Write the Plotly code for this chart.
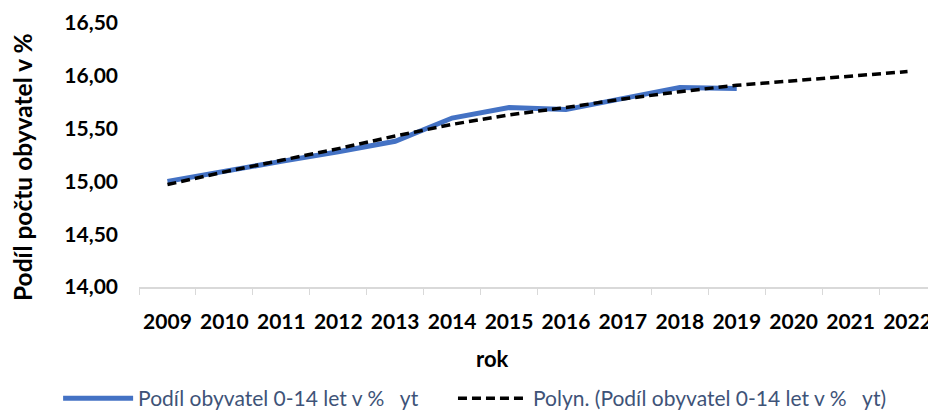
import plotly.graph_objects as go

years = ["2009", "2010", "2011", "2012", "2013", "2014", "2015", "2016",
         "2017", "2018", "2019", "2020", "2021", "2022"]
share_values = [15.00, 15.10, 15.19, 15.28, 15.38, 15.60, 15.70, 15.68,
                15.78, 15.89, 15.88]
trend_values = [14.97, 15.09, 15.20, 15.31, 15.43, 15.54, 15.63, 15.70,
                15.78, 15.85, 15.91, 15.955, 16.00, 16.04]
y_ticks = [14.0, 14.5, 15.0, 15.5, 16.0, 16.5]

series_name = "Podíl obyvatel 0-14 let v %   yt"
trend_name = "Polyn. (Podíl obyvatel 0-14 let v %   yt)"
x_title = "rok"
y_title = "Podíl počtu obyvatel v %"

FONT = "Lato"
LEGEND_FONT = dict(family=FONT, size=21, color="#3E5378")

fig = go.Figure()
fig.add_trace(go.Scatter(
    x=years[:len(share_values)], y=share_values, mode="lines",
    name=series_name, line=dict(color="#4472C4", width=5), legend="legend"))
fig.add_trace(go.Scatter(
    x=years, y=trend_values, mode="lines", name=trend_name,
    line=dict(color="#000000", width=3.5, dash="9px,5px"), legend="legend2"))

# page body adds an 8px offset, so the figure is sized to fill the rest of the window
fig.update_layout(
    width=928, height=406,
    margin=dict(l=131, r=0, t=15, b=127),
    paper_bgcolor="white", plot_bgcolor="white",
    separators=", ",
    font=dict(family=FONT, color="black"),
    showlegend=True,
    legend=dict(orientation="h", xref="container", yref="container",
                x=0.054, xanchor="left", y=0.038, yanchor="middle",
                font=LEGEND_FONT, itemwidth=70),
    legend2=dict(orientation="h", xref="container", yref="container",
                 x=0.4795, xanchor="left", y=0.038, yanchor="middle",
                 font=LEGEND_FONT, itemwidth=70),
    xaxis=dict(type="category", categoryorder="array", categoryarray=years,
               automargin=False, tickangle=0,
               showgrid=False, showline=True, linecolor="#d9d9d9", linewidth=1.5,
               ticks="outside", tickson="boundaries", ticklen=6, tickcolor="#d9d9d9",
               ticklabelstandoff=15,
               tickfont=dict(family=FONT, size=21, color="black", weight="bold"),
               range=[-0.5, 13.5], zeroline=False),
    yaxis=dict(range=[14.0, 16.5], tickvals=y_ticks, tickformat=".2f",
               automargin=False,
               showgrid=False, showline=False, zeroline=False, ticks="",
               ticklabelstandoff=20,
               tickfont=dict(family=FONT, size=21, color="black", weight="bold")),
    annotations=[
        dict(text=x_title, xref="paper", yref="paper", x=0.443, y=-0.269,
             xanchor="center", yanchor="middle", showarrow=False,
             font=dict(family=FONT, size=22, color="black", weight="bold")),
        dict(text=y_title, xref="paper", yref="paper", x=-0.1468, y=0.4545,
             xanchor="center", yanchor="middle", showarrow=False, textangle=-90,
             font=dict(family=FONT, size=24.5, color="black", weight="bold")),
    ],
)

fig.write_html("out.html")
